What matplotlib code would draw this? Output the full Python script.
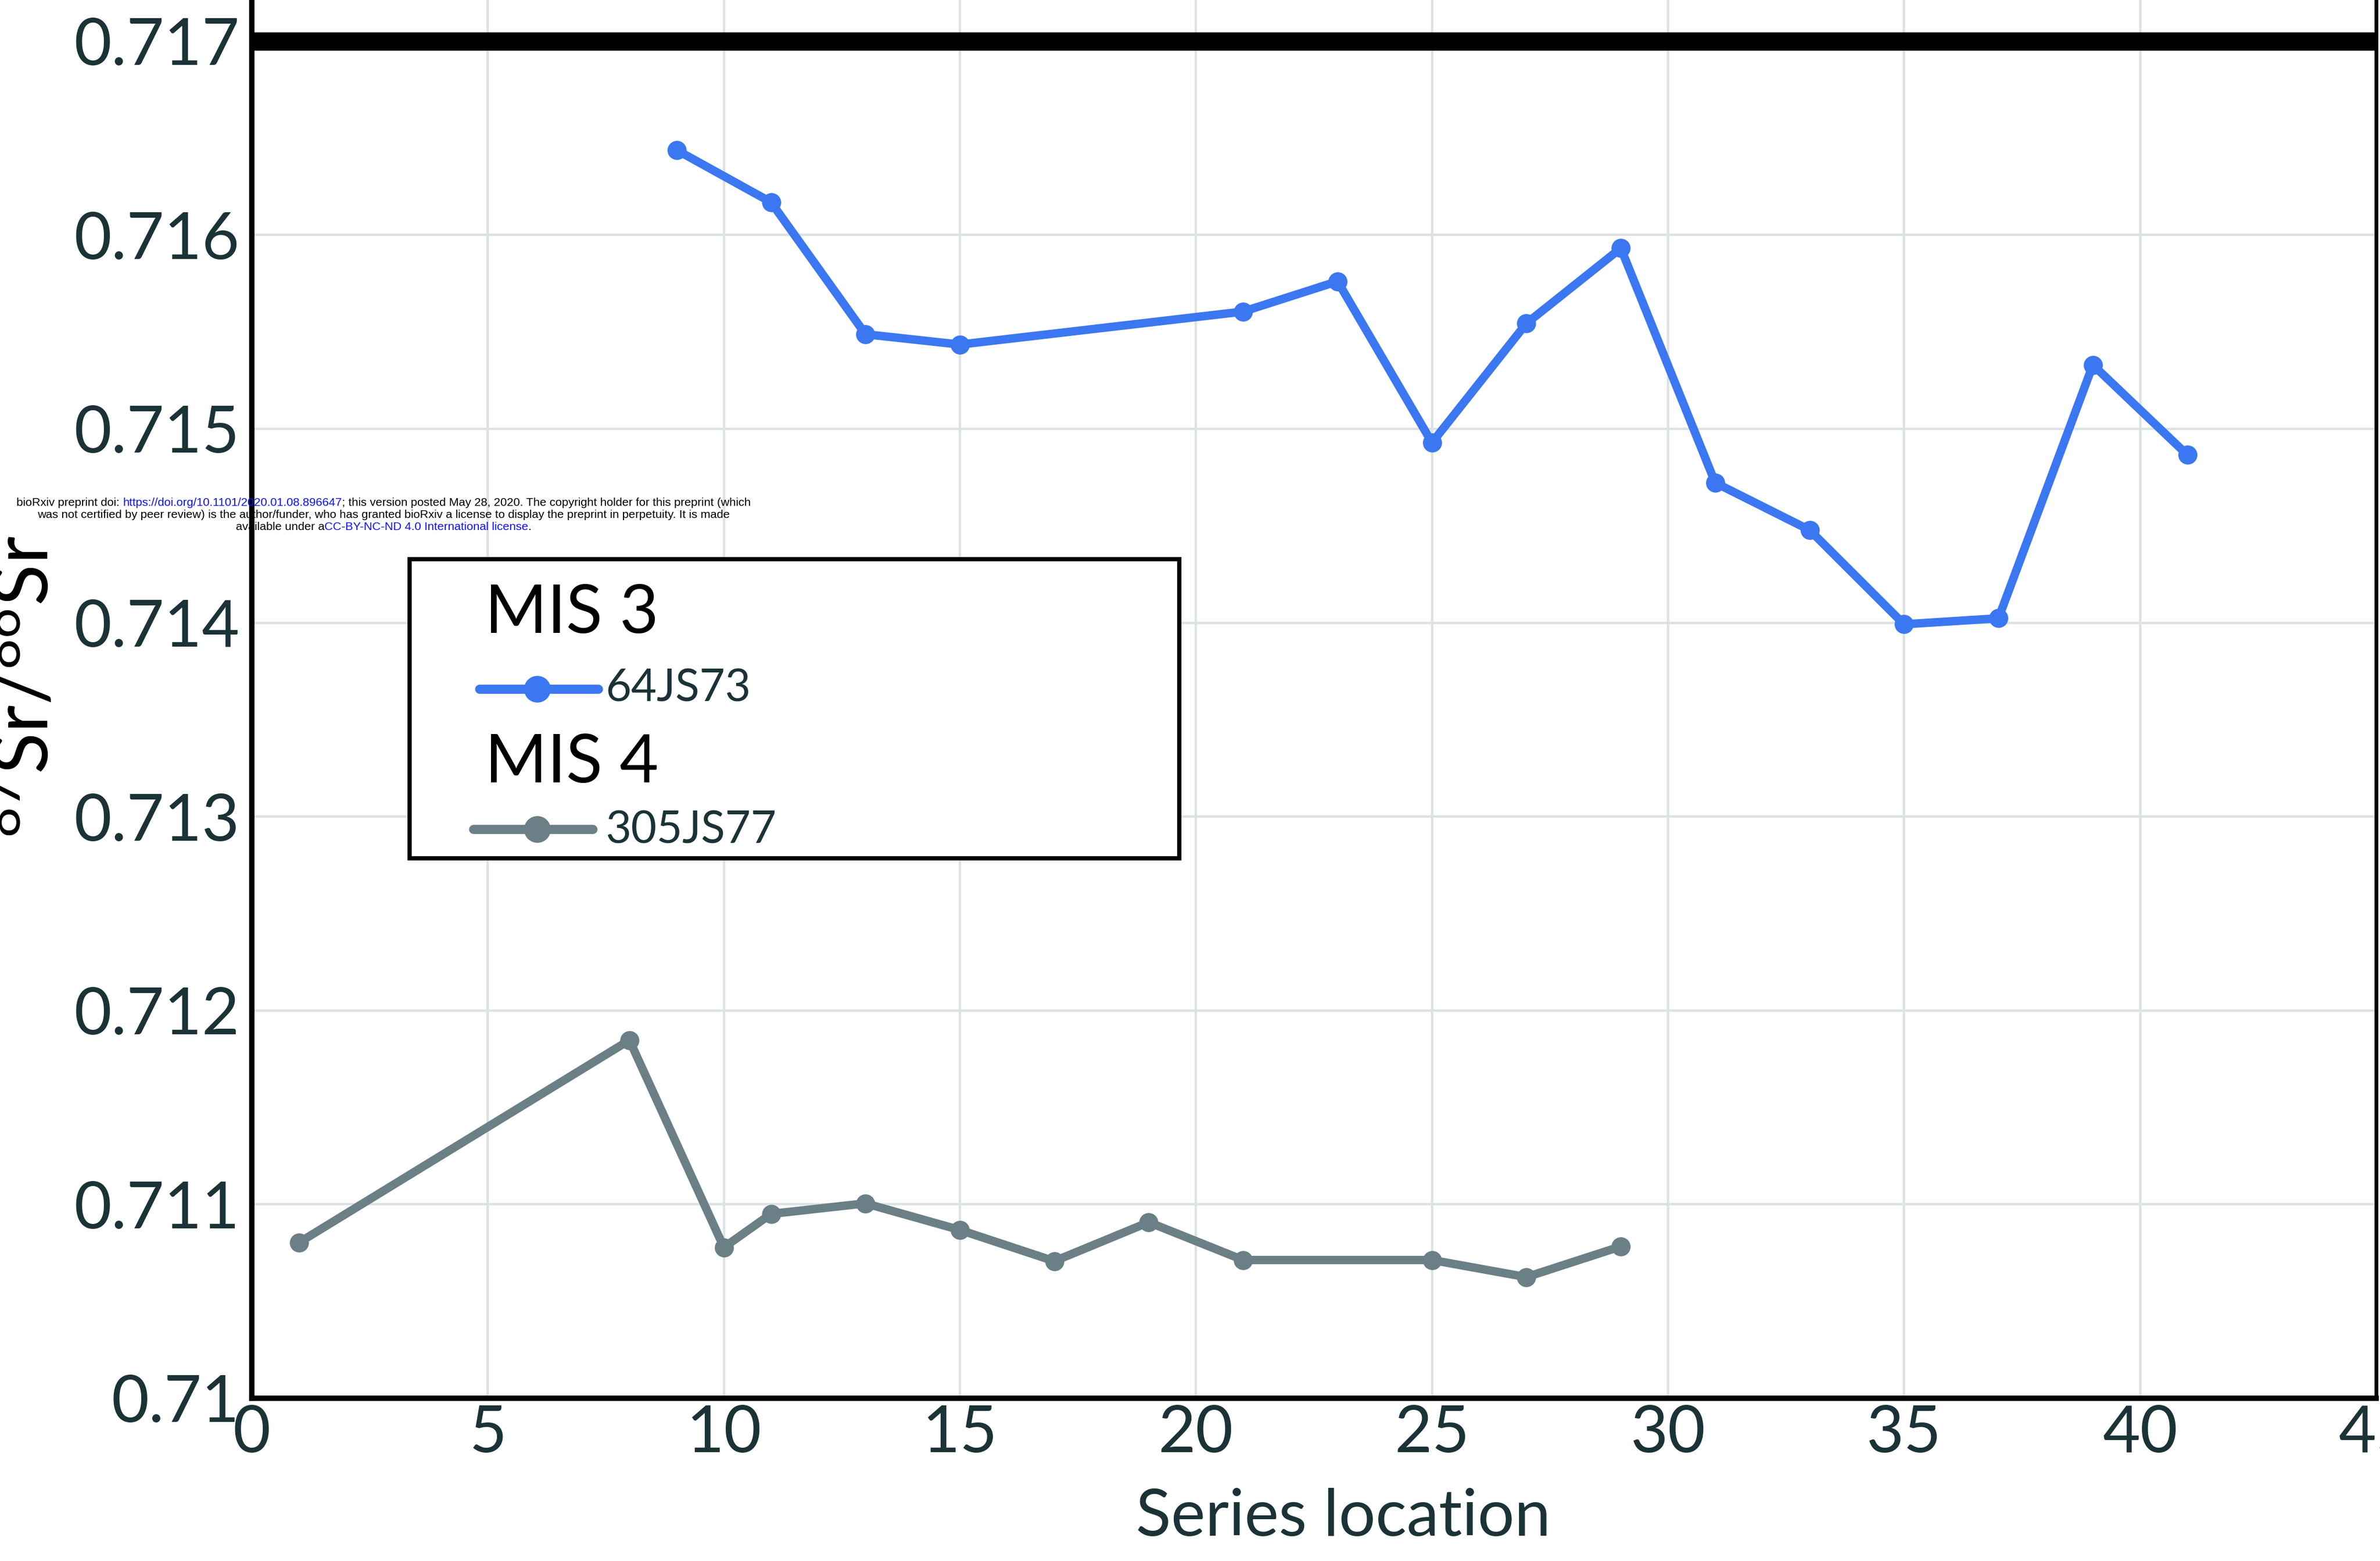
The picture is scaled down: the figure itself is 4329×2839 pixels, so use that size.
import matplotlib
matplotlib.use("Agg")
import matplotlib.pyplot as plt
from matplotlib.patches import Rectangle
from matplotlib.lines import Line2D
from matplotlib.ticker import FixedLocator, FuncFormatter

# ---------------- data ----------------
loc_64JS73 = [9, 11, 13, 15, 21, 23, 25, 27, 29, 31, 33, 35, 37, 39, 41]
sr_64JS73 = [0.716438, 0.716169, 0.715488, 0.715435, 0.715605, 0.715761,
             0.714929, 0.715544, 0.715932, 0.714722, 0.714478, 0.713992,
             0.714023, 0.715330, 0.714866]
loc_305JS77 = [1, 8, 10, 11, 13, 15, 17, 19, 21, 25, 27, 29]
sr_305JS77 = [0.710803, 0.711847, 0.710778, 0.710951, 0.711005, 0.710868,
              0.710707, 0.710908, 0.710713, 0.710713, 0.710625, 0.710783]
reference_value = 0.717
x_ticks = [0, 5, 10, 15, 20, 25, 30, 35, 40, 45]
y_ticks = [0.710, 0.711, 0.712, 0.713, 0.714, 0.715, 0.716, 0.717]
series_names = ["64JS73", "305JS77"]
group_names = ["MIS 3", "MIS 4"]

BLUE = "#3b77f0"
GRAY = "#6b7f86"
TICK_C = "#1b3236"
FONT = ["Lato", "DejaVu Sans"]

plt.rcParams["font.family"] = FONT
plt.rcParams["mathtext.fontset"] = "custom"
plt.rcParams["mathtext.rm"] = "Lato"
plt.rcParams["mathtext.it"] = "Lato:italic"
plt.rcParams["mathtext.bf"] = "Lato:bold"

W, H = 4329, 2839
fig = plt.figure(figsize=(W / 100, H / 100), dpi=100)
fig.patch.set_facecolor("white")

# axes placement (pixel based)
L, R, B = 458, 4322, 2543
px_per_unit_y = 352.6 / 0.001
ylim = (0.710, 0.7175)
ax_h = (ylim[1] - ylim[0]) * px_per_unit_y
ax = fig.add_axes([L / W, (H - B) / H, (R - L) / W, ax_h / H])
ax.set_xlim(0, 45)
ax.set_ylim(*ylim)

ax.xaxis.set_major_locator(FixedLocator(x_ticks))
ax.yaxis.set_major_locator(FixedLocator(y_ticks))
ax.yaxis.set_major_formatter(FuncFormatter(lambda v, p: "{:g}".format(round(v, 4))))
ax.tick_params(axis="both", length=0, labelsize=85, colors=TICK_C)
ax.tick_params(axis="y", pad=16)
ax.tick_params(axis="x", pad=8)

ax.grid(True, color="#dde2e2", linewidth=3.2, zorder=0)
ax.set_axisbelow(True)

for side in ["left", "bottom"]:
    ax.spines[side].set_linewidth(7)
    ax.spines[side].set_color("black")
ax.spines["right"].set_linewidth(5)
ax.spines["right"].set_color("black")
ax.spines["top"].set_visible(False)

# thick reference line
ax.axhline(reference_value, color="black", linewidth=24, zorder=3)

# series
ax.plot(loc_64JS73, sr_64JS73, color=BLUE, linewidth=11, marker="o",
        markersize=24, zorder=4, solid_capstyle="round")
ax.plot(loc_305JS77, sr_305JS77, color=GRAY, linewidth=11, marker="o",
        markersize=24, zorder=4, solid_capstyle="round")

# axis labels
ax.set_xlabel("Series location", fontsize=85, color=TICK_C)
ax.xaxis.label.set_va("baseline")
ax.xaxis.set_label_coords((2443 - L) / (R - L), (B - 2793) / ax_h)

ax.set_ylabel(r"$^{87}$Sr/$^{86}$Sr", fontsize=100, color="black")
ax.yaxis.label.set_va("baseline")
ax.yaxis.set_label_coords((88 - L) / (R - L), (B - 1250) / ax_h)


# ---------- legend (drawn in axes fraction) ----------
def fx(px):
    return (px - L) / (R - L)


def fy(py):
    return (B - py) / ax_h


ax.add_patch(Rectangle((fx(745), fy(1561)), fx(2145) - fx(745), fy(1017) - fy(1561),
                       transform=ax.transAxes, facecolor="white", edgecolor="black",
                       linewidth=5.5, zorder=6))
ax.text(fx(882), fy(1151), group_names[0], transform=ax.transAxes, fontsize=88,
        color="black", va="baseline", ha="left", zorder=7)
ax.text(fx(882), fy(1423), group_names[1], transform=ax.transAxes, fontsize=88,
        color="black", va="baseline", ha="left", zorder=7)
for (x0, x1, xm, yc, col) in [(872, 1088, 977, 1253, BLUE), (861, 1078, 977, 1508, GRAY)]:
    ax.add_line(Line2D([fx(x0), fx(x1)], [fy(yc), fy(yc)], transform=ax.transAxes,
                       color=col, linewidth=12, zorder=7, solid_capstyle="round"))
    ax.add_line(Line2D([fx(xm)], [fy(yc)], transform=ax.transAxes, color=col,
                       marker="o", markersize=34, linestyle="none", zorder=8))
ax.text(fx(1102), fy(1276), series_names[0], transform=ax.transAxes, fontsize=58,
        color=TICK_C, va="baseline", ha="left", zorder=7)
ax.text(fx(1102), fy(1534), series_names[1], transform=ax.transAxes, fontsize=58,
        color=TICK_C, va="baseline", ha="left", zorder=7)

# ---------- bioRxiv watermark ----------
WM_FONT = ["Liberation Sans Narrow", "Liberation Sans", "DejaVu Sans"]
LINK = "#1010ff"
lines = [
    [("bioRxiv preprint doi: ", "black"),
     ("https://doi.org/10.1101/2020.01.08.896647", LINK),
     ("; this version posted May 28, 2020. The copyright holder for this preprint (which", "black")],
    [("was not certified by peer review) is the author/funder, who has granted bioRxiv a license to display the preprint in perpetuity. It is made", "black")],
    [("available under a", "black"), ("CC-BY-NC-ND 4.0 International license", LINK), (".", "black")],
]
line_y = [915, 936, 958]
center_x = 698
renderer = fig.canvas.get_renderer()


def text_width(s, fs):
    t = fig.text(0, 0, s, fontsize=fs, family=WM_FONT)
    w = t.get_window_extent(renderer).width
    t.remove()
    return w


full1 = "".join(p[0] for p in lines[0])
fs_wm = 10 * 1341 / text_width(full1, 10)

for pieces, yy in zip(lines, line_y):
    full = "".join(p[0] for p in pieces)
    total = text_width(full, fs_wm)
    x0 = center_x - total / 2
    prefix = ""
    for s, c in pieces:
        off = text_width(prefix, fs_wm) if prefix else 0
        fig.text((x0 + off) / W, 1 - yy / H, s, fontsize=fs_wm, family=WM_FONT,
                 color=c, va="center", ha="left", zorder=20)
        prefix += s

fig.savefig("out.png", dpi=100, facecolor="white")
